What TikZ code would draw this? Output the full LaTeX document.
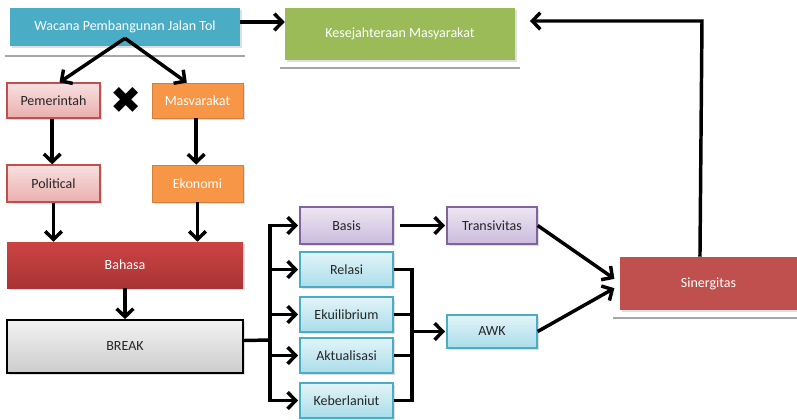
\documentclass[tikz,border=0pt]{standalone}
\usepackage{fontspec}
\setmainfont{Carlito}
\newfontfamily\symfont{DejaVu Sans}
\usetikzlibrary{arrows.meta,shadows}
\definecolor{cyanM}{HTML}{4BACC6}
\definecolor{greenM}{HTML}{9BBB59}
\definecolor{orangeM}{HTML}{F79646}
\definecolor{redM}{HTML}{C0504D}
\definecolor{redT}{HTML}{CC4442}
\definecolor{redD}{HTML}{A83434}
\definecolor{pinkT}{HTML}{F7E0E0}
\definecolor{pinkB}{HTML}{EBAFAE}
\definecolor{purpT}{HTML}{ECE7F2}
\definecolor{purpB}{HTML}{CABBDD}
\definecolor{purpL}{HTML}{8064A2}
\definecolor{cyanT}{HTML}{E3F4F8}
\definecolor{cyanB}{HTML}{A9DDEA}
\definecolor{grayL}{HTML}{A6A6A6}
\definecolor{txtD}{HTML}{262626}
\begin{document}
\begin{tikzpicture}[x=0.75pt,y=-0.75pt,
  base/.style={rectangle,inner sep=0pt,font=\fontsize{10.5}{12}\selectfont,
    drop shadow={shadow xshift=1.2pt,shadow yshift=-1.2pt,opacity=0.25}},
  solidbox/.style={base,fill=#1,text=white},
  pinkbox/.style={base,draw=redM,line width=1pt,top color=pinkT,bottom color=pinkB,text=txtD},
  purpbox/.style={base,draw=purpL,line width=1pt,top color=purpT,bottom color=purpB,text=txtD},
  cyanbox/.style={base,draw=cyanM,line width=1pt,top color=cyanT,bottom color=cyanB,text=txtD},
  arr/.style={line width=2.6pt,-{Straight Barb[length=6pt,width=12.5pt,line width=2.6pt]}},
  conn/.style={line width=2.6pt},
  sep/.style={line width=2.2pt,grayL}
]
\useasboundingbox (0,0) rectangle (797,419);

% top row
\node[solidbox=cyanM,minimum width=172.5pt,minimum height=28.5pt] (wac) at (125,27) {Wacana Pembangunan Jalan Tol};
\node[solidbox=greenM,minimum width=172.5pt,minimum height=39pt] (kes) at (400,34) {Kesejahteraan Masyarakat};
\draw[sep] (5,56) -- (245,56);
\draw[sep] (280,68) -- (520,68);

% second row
\node[pinkbox,minimum width=69.75pt,minimum height=26.25pt] (pem) at (53.5,100.5) {Pemerintah};
\node[solidbox=orangeM,draw=orangeM!85!black,line width=0.6pt,minimum width=68.25pt,minimum height=26.25pt] (mas) at (197.5,100.5) {Masvarakat};
\node[font=\symfont\fontsize{28}{28}\selectfont,inner sep=0pt] (xm) at (126,100) {✖};

\node[pinkbox,minimum width=69.75pt,minimum height=27.75pt] (pol) at (53.5,183.5) {Political};
\node[solidbox=orangeM,draw=orangeM!85!black,line width=0.6pt,minimum width=68.25pt,minimum height=27.75pt] (eko) at (197.5,183.5) {Ekonomi};

\node[base,top color=redT,bottom color=redD,text=white,minimum width=177pt,minimum height=34.5pt] (bah) at (125,265) {Bahasa};
\node[base,draw=black,line width=1.3pt,top color=gray!10,bottom color=gray!40,text=txtD,minimum width=177pt,minimum height=39.75pt] (brk) at (125,346.5) {BREAK};

% right side boxes
\node[purpbox,minimum width=69.75pt,minimum height=27.75pt] (bas) at (346.5,225.5) {Basis};
\node[purpbox,minimum width=67.5pt,minimum height=27.75pt] (tra) at (492,225.5) {Transivitas};
\node[cyanbox,minimum width=69.75pt,minimum height=26.25pt] (rel) at (346.5,269.5) {Relasi};
\node[cyanbox,minimum width=69.75pt,minimum height=26.25pt] (eku) at (346.5,314.5) {Ekuilibrium};
\node[cyanbox,minimum width=69.75pt,minimum height=26.25pt] (akt) at (346.5,355.5) {Aktualisasi};
\node[cyanbox,minimum width=69.75pt,minimum height=26.25pt] (keb) at (346.5,400.5) {Keberlaniut};
\node[cyanbox,minimum width=67.5pt,minimum height=24.75pt] (awk) at (492,331.5) {AWK};
\node[solidbox=redM,minimum width=132.75pt,minimum height=39.75pt] (sin) at (708.5,283.5) {Sinergitas};
\draw[sep] (613,318) -- (797,318);

% connectors top
\draw[arr] ([yshift=3.75pt]wac.east) -- ([yshift=9pt]kes.west);
\draw[arr] ([yshift=6pt]wac.south) -- ([xshift=4.5pt]pem.north);
\draw[arr] ([yshift=6pt]wac.south) -- ([xshift=-8pt]mas.north);
\draw[arr] ([xshift=-1pt]pem.south) -- ([xshift=-1pt]pol.north);
\draw[arr] ([xshift=-1pt]mas.south) -- ([xshift=-1pt]eko.north);
\draw[arr] (pol.south) -- (pol.south |- bah.north);
\draw[arr] (eko.south) -- (eko.south |- bah.north);
\draw[arr] (bah.south) -- (brk.north);

% bus from BREAK
\coordinate (bus) at (270,340);
\draw[conn] ([yshift=4.5pt]brk.east) -- (bus);
\draw[conn,line cap=rect] (bus |- bas.west) -- (bus |- keb.west);
\foreach \n in {bas,rel,eku,akt,keb}{
  \draw[arr] (bus |- \n.west) -- ([xshift=-1pt]\n.west);
}
\draw[arr] ([xshift=5pt]bas.east) -- ([xshift=-1pt]tra.west);

% merge into AWK
\coordinate (mrg) at (412,331.5);
\foreach \n in {rel,eku,akt,keb}{
  \draw[conn] (\n.east) -- (mrg |- \n.east);
}
\draw[conn,line cap=rect] (mrg |- rel.east) -- (mrg |- keb.east);
\draw[arr] (mrg) -- ([xshift=-1pt]awk.west);

% into Sinergitas
\draw[arr] (tra.east) -- ([xshift=-4pt,yshift=3.5pt]sin.west);
\draw[arr] (awk.east) -- ([xshift=-4pt,yshift=-3.5pt]sin.west);

% feedback
\coordinate (top) at (702,21);
\draw[arr] ([xshift=-6.4pt]sin.north) -- (top) -- ([xshift=11pt]kes.east |- top);
\end{tikzpicture}
\end{document}
